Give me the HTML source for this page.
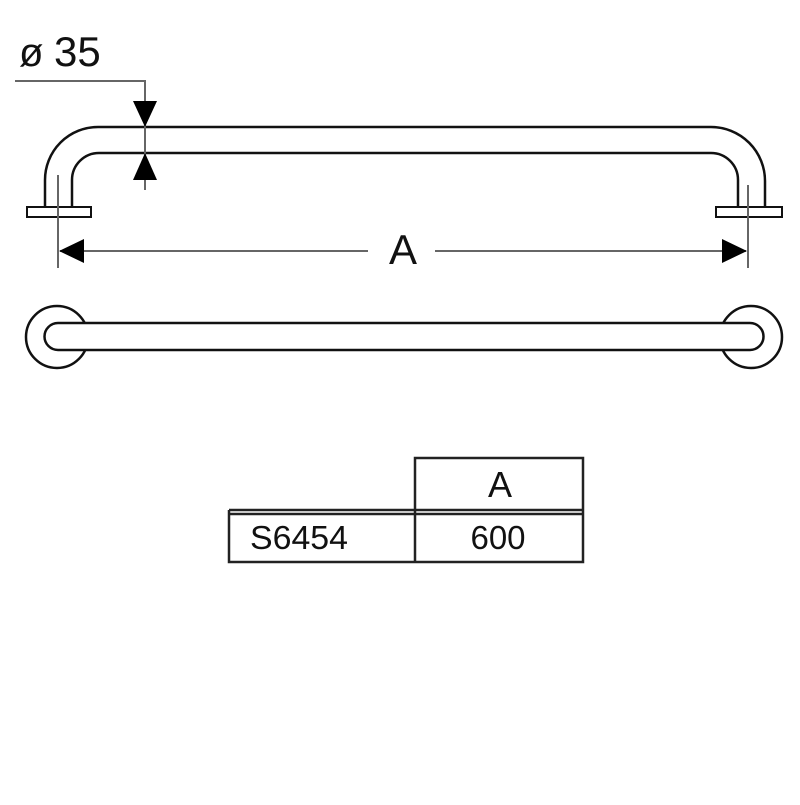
<!DOCTYPE html>
<html><head><style>html,body{margin:0;padding:0;background:#fff}</style></head><body>
<svg width="800" height="800" viewBox="0 0 800 800" xmlns="http://www.w3.org/2000/svg" font-family="Liberation Sans, sans-serif">
<rect width="800" height="800" fill="#fff"/>
<g fill="none" stroke="#111" stroke-width="2.5">
<path d="M45,206 L45,180 A53,53 0 0 1 98,127 L711,127 A54,54 0 0 1 765,181 L765,206"/>
<path d="M72,206 L72,180 A27,27 0 0 1 99,153 L711,153 A27,27 0 0 1 738,180 L738,206"/>
<rect x="27" y="207" width="64" height="10" stroke-width="2"/>
<rect x="716" y="207" width="66" height="10" stroke-width="2"/>
<circle cx="57" cy="337" r="31"/>
<circle cx="751" cy="337" r="31"/>
<path d="M58,323 L750,323 A13.5,13.5 0 0 1 750,350 L58,350 A13.5,13.5 0 0 1 58,323 Z" fill="#fff"/>
</g>
<g stroke="#666" stroke-width="2" fill="none">
<path d="M15,81 L145,81 L145,190"/>
<line x1="58" y1="175" x2="58" y2="268"/>
<line x1="748" y1="185" x2="748" y2="268"/>
<line x1="60" y1="251" x2="368" y2="251"/>
<line x1="435" y1="251" x2="746" y2="251"/>
</g>
<g fill="#000">
<polygon points="133,101 157,101 145,127"/>
<polygon points="133,180 157,180 145,153"/>
<polygon points="59,251 84,239 84,263"/>
<polygon points="747,251 722,239 722,263"/>
</g>
<text x="19" y="66" font-size="40" fill="#111">ø</text>
<text x="54" y="66" font-size="42" fill="#111">35</text>
<text x="403" y="264" font-size="42" fill="#111" text-anchor="middle">A</text>
<g stroke="#222" stroke-width="2.5" fill="none">
<path d="M415,510 L415,458 L583,458 L583,562 L229,562 L229,510"/>
<line x1="229" y1="510" x2="583" y2="510"/>
<line x1="229" y1="514" x2="583" y2="514"/>
<line x1="415" y1="510" x2="415" y2="562"/>
</g>
<text x="500" y="497" font-size="36" fill="#111" text-anchor="middle">A</text>
<text x="250" y="549" font-size="33" fill="#111" textLength="98" lengthAdjust="spacingAndGlyphs">S6454</text>
<text x="498" y="549" font-size="33" fill="#111" text-anchor="middle">600</text>
</svg>
</body></html>
